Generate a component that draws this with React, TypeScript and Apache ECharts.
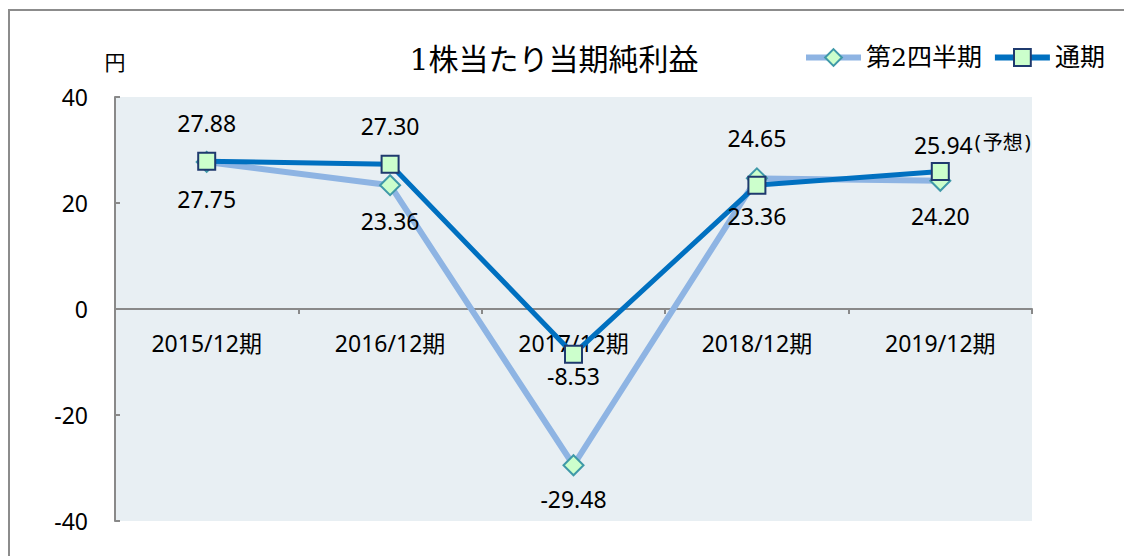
import React, { useEffect, useRef } from "react";
import * as echarts from "echarts";

const categories = ["2015/12期", "2016/12期", "2017/12期", "2018/12期", "2019/12期"];
const q2Values = [27.75, 23.36, -29.48, 24.65, 24.2];
const fullYearValues = [27.88, 27.3, -8.53, 23.36, 25.94];
const yTicks = { min: -40, max: 40, interval: 20 };
const forecastIndex = 4;

// label placement per point (position, distance)
const q2Labels: [string, number][] = [
  ["bottom", 15],
  ["bottom", 13],
  ["bottom", 11],
  ["top", 18],
  ["bottom", 13],
];
const fullLabels: [string, number][] = [
  ["top", 17],
  ["top", 17],
  ["bottom", 1],
  ["bottom", 10],
  ["top", 3],
];

const SANS = "'Noto Sans', 'Noto Sans CJK JP', sans-serif";
const SERIF = "'DejaVu Serif', 'Noto Sans CJK JP', serif";

export default function App() {
  const ref = useRef<HTMLDivElement>(null);
  useEffect(() => {
    if (!ref.current) return;
    const chart = echarts.init(ref.current, undefined, { renderer: "svg" });
    const labelBase = { show: true, fontFamily: SANS, fontSize: 23, color: "#000" };
    const gridTop = 97;
    const gridBottom = 35;
    const plotH = 556 - gridTop - gridBottom;
    const zeroOffset = -plotH * (0 - yTicks.min) / (yTicks.max - yTicks.min);
    chart.setOption({
      animation: false,
      backgroundColor: "#fff",
      title: {
        text: "1株当たり当期純利益",
        left: 549,
        top: 39,
        textAlign: "center",
        textStyle: { fontFamily: SERIF, fontSize: 30, fontWeight: "normal", color: "#000" },
      },
      legend: {
        left: 798,
        top: 40,
        itemWidth: 55,
        itemHeight: 21,
        itemGap: 10,
        lineStyle: { width: 6 },
        itemStyle: { borderWidth: 2 },
        textStyle: { fontFamily: SERIF, fontSize: 25, color: "#000" },
        data: ["第2四半期", "通期"],
      },
      graphic: [
        {
          type: "rect",
          shape: { x: 9, y: 10, width: 1200, height: 600 },
          style: { fill: "none", stroke: "#8c8c8c", lineWidth: 2 },
          silent: true,
        },
        {
          type: "text",
          x: 115,
          y: 62,
          style: {
            text: "円",
            fontFamily: SANS,
            fontSize: 21,
            fill: "#000",
            textAlign: "center",
            textVerticalAlign: "middle",
          },
        },
      ],
      grid: {
        left: 115,
        right: 92,
        top: gridTop,
        bottom: gridBottom,
        show: true,
        backgroundColor: "#E8EFF3",
        borderWidth: 0,
        containLabel: false,
        outerBoundsMode: "none",
      },
      xAxis: {
        type: "category",
        data: categories,
        boundaryGap: true,
        position: "bottom",
        offset: zeroOffset,
        axisLine: { show: true, onZero: false, lineStyle: { color: "#898989", width: 2 } },
        axisTick: { show: true, length: 5, lineStyle: { color: "#898989", width: 2 } },
        axisLabel: { interval: 0, margin: 22, fontFamily: SANS, fontSize: 23, color: "#000" },
        splitLine: { show: false },
      },
      yAxis: {
        type: "value",
        min: yTicks.min,
        max: yTicks.max,
        interval: yTicks.interval,
        axisLine: { show: true, lineStyle: { color: "#898989", width: 2 } },
        axisTick: { show: true, inside: true, length: 5, lineStyle: { color: "#898989", width: 2 } },
        axisLabel: { margin: 27, fontFamily: SANS, fontSize: 23, color: "#000" },
        splitLine: { show: false },
      },
      series: [
        {
          name: "第2四半期",
          type: "line",
          z: 2,
          symbol: "diamond",
          symbolSize: 20,
          lineStyle: { color: "#8EB4E3", width: 6 },
          itemStyle: { color: "#CCFFCC", borderColor: "#3F99A8", borderWidth: 2 },
          data: q2Values.map((v, i) => ({
            value: v,
            label: {
              ...labelBase,
              position: q2Labels[i][0],
              distance: q2Labels[i][1],
              formatter: () => v.toFixed(2),
            },
          })),
        },
        {
          name: "通期",
          type: "line",
          z: 3,
          symbol: "rect",
          symbolSize: 17,
          lineStyle: { color: "#0070C0", width: 5 },
          itemStyle: { color: "#CCFFCC", borderColor: "#1F3A6E", borderWidth: 2 },
          data: fullYearValues.map((v, i) => ({
            value: v,
            label:
              i === forecastIndex
                ? {
                    ...labelBase,
                    position: fullLabels[i][0],
                    distance: fullLabels[i][1],
                    offset: [33, 0],
                    formatter: () => `{a|${v.toFixed(2)}}{p|(}{b|予想}{p|)}`,
                    rich: {
                      a: { fontFamily: SANS, fontSize: 23, lineHeight: 28, color: "#000", verticalAlign: "middle" },
                      p: { fontFamily: SANS, fontSize: 20, lineHeight: 21, color: "#000", verticalAlign: "top", padding: [0, 2] },
                      b: { fontFamily: "'Noto Sans CJK JP', sans-serif", fontSize: 20, lineHeight: 21, color: "#000", verticalAlign: "top" },
                    },
                  }
                : {
                    ...labelBase,
                    position: fullLabels[i][0],
                    distance: fullLabels[i][1],
                    formatter: () => v.toFixed(2),
                  },
          })),
        },
      ],
    });
    return () => chart.dispose();
  }, []);
  return (
    <div
      ref={ref}
      style={{ position: "absolute", left: 0, top: 0, width: 1124, height: 556 }}
    />
  );
}
